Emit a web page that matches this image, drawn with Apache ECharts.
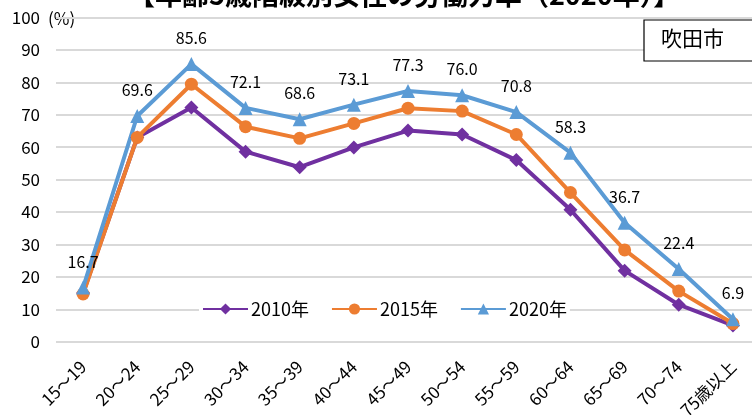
<!DOCTYPE html>
<html><head><meta charset="utf-8">
<script src="https://cdn.jsdelivr.net/npm/echarts@6/dist/echarts.min.js"></script>
<style>html,body{margin:0;padding:0;background:#fff}#c{width:752px;height:415px}</style>
</head><body><div id="c"></div>
<script>
const categories = ['15～19','20～24','25～29','30～34','35～39','40～44','45～49','50～54','55～59','60～64','65～69','70～74','75歳以上'];
const s2010 = [15.0, 63.0, 72.2, 58.6, 53.8, 59.9, 65.1, 63.9, 56.0, 40.7, 21.9, 11.4, 5.0];
const s2015 = [14.7, 63.0, 79.4, 66.3, 62.7, 67.3, 72.0, 71.1, 63.9, 46.0, 28.3, 15.6, 5.6];
const s2020 = [16.7, 69.6, 85.6, 72.1, 68.6, 73.1, 77.3, 76.0, 70.8, 58.3, 36.7, 22.4, 6.9];
const yTicks = { min: 0, max: 100, interval: 10 };
const titleText = '【年齢5歳階級別女性の労働力率（2020年）】';
const cityText = '吹田市';
const unitText = '(%)';

const FONT = '"Noto Sans CJK JP", "Liberation Sans", sans-serif';
const chart = echarts.init(document.getElementById('c'), null, {renderer: 'canvas'});
const mk = (name, data, color, symbol, size, label) => ({
  name, type: 'line', data, symbol, symbolSize: size, showAllSymbol: true,
  lineStyle: {color, width: 4}, itemStyle: {color},
  label: label ? {show: true, position: 'top', distance: 11, color: '#000', fontSize: 16, fontFamily: FONT, formatter: p => p.value.toFixed(1)} : {show: false},
  emphasis: {disabled: true}, animation: false
});
chart.setOption({
  animation: false,
  textStyle: {fontFamily: FONT},
  grid: {left: 56, right: -8, top: 17.4, bottom: 73.3, containLabel: false, outerBoundsMode: 'none'},
  xAxis: {
    type: 'category', data: categories, boundaryGap: true,
    axisLine: {show: false}, axisTick: {show: false},
    axisLabel: {rotate: 45, margin: 22, fontSize: 17, color: '#000', fontFamily: FONT, interval: 0, hideOverlap: false}
  },
  yAxis: {
    type: 'value', min: yTicks.min, max: yTicks.max, interval: yTicks.interval,
    axisLine: {show: false}, axisTick: {show: false},
    axisLabel: {margin: 16, fontSize: 17, color: '#000', fontFamily: FONT},
    splitLine: {lineStyle: {color: '#d9d9d9', width: 2}}
  },
  legend: {
    left: 199, top: 298, itemWidth: 45, itemHeight: 14, itemGap: 22,
    backgroundColor: '#fff', padding: [2, 3],
    textStyle: {fontSize: 18, color: '#000', fontFamily: FONT, padding: [0, 0, 0, -2]},
    data: ['2010年', '2015年', '2020年']
  },
  series: [
    mk('2010年', s2010, '#7030A0', 'diamond', 14, false),
    mk('2015年', s2015, '#ED7D31', 'circle', 13, false),
    mk('2020年', s2020, '#5B9BD5', 'triangle', 14, true)
  ],
  graphic: [
    {type: 'text', left: 128, top: -19, style: {text: titleText, font: 'bold 27px ' + FONT, fill: '#000'}},
    {type: 'text', left: 48, top: 10, style: {text: unitText, font: '17px ' + FONT, fill: '#000'}},
    {type: 'rect', shape: {x: 644, y: 20, width: 130, height: 41}, style: {fill: '#fff', stroke: '#000', lineWidth: 1.2}, z: 10},
    {type: 'text', left: 661, top: 28, z: 11, style: {text: cityText, font: '21px ' + FONT, fill: '#000'}}
  ]
});
</script></body></html>
